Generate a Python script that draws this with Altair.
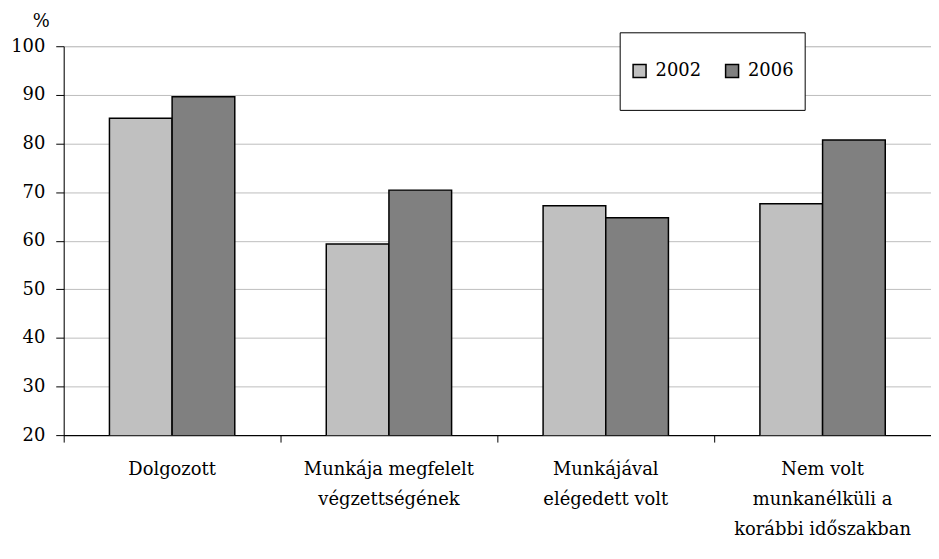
import altair as alt
import pandas as pd

categories = [
    "Dolgozott",
    "Munkája megfelelt\nvégzettségének",
    "Munkájával\nelégedett volt",
    "Nem volt\nmunkanélküli a\nkorábbi időszakban",
]
years = ["2002", "2006"]
values_2002 = [85.2, 59.3, 67.2, 67.6]
values_2006 = [89.6, 70.4, 64.7, 80.7]
y_ticks = [20, 30, 40, 50, 60, 70, 80, 90, 100]

rows = []
for c, a, b in zip(categories, values_2002, values_2006):
    rows.append({"cat": c, "year": "2002", "value": a})
    rows.append({"cat": c, "year": "2006", "value": b})
df = pd.DataFrame(rows)

FONT = "DejaVu Serif"
FS = 18

x_scale = alt.Scale(domain=categories, paddingInner=0, paddingOuter=0)
xo_scale = alt.Scale(domain=years, paddingOuter=0.73, paddingInner=0)
y_scale = alt.Scale(domain=[20, 100], nice=False, zero=False)

y_axis = alt.Axis(
    values=y_ticks,
    title="%",
    titleAngle=0,
    titleAlign="center",
    titleBaseline="alphabetic",
    titleX=-23,
    titleY=-20,
    titleFont=FONT,
    titleFontSize=FS,
    titleFontWeight="normal",
    titleColor="black",
    labelFont=FONT,
    labelFontSize=FS,
    labelColor="black",
    labelPadding=11,
    tickSize=8,
    tickColor="black",
    domainColor="black",
    gridColor="#bdbdbd",
    gridWidth=1,
)

bars = alt.Chart(df).mark_bar(stroke="black", strokeWidth=1.5, clip=True).encode(
    x=alt.X(
        "cat:N",
        scale=x_scale,
        sort=categories,
        axis=alt.Axis(
            orient="bottom",
            title=None,
            labelExpr="split(datum.label, '\\n')",
            labelFont=FONT,
            labelFontSize=FS,
            labelColor="black",
            labelLineHeight=30,
            labelAngle=0,
            labelPadding=26,
            labelLimit=300,
            labelOverlap=False,
            ticks=False,
            domainColor="black",
            grid=False,
        ),
    ),
    xOffset=alt.XOffset("year:N", scale=xo_scale),
    y=alt.Y("value:Q", scale=y_scale, axis=y_axis),
    color=alt.Color(
        "year:N",
        scale=alt.Scale(domain=years, range=["#c0c0c0", "#808080"]),
        legend=alt.Legend(
            title=None,
            orient="none",
            legendX=559,
            legendY=-14,
            direction="horizontal",
            fillColor="white",
            strokeColor="black",
            padding=11,
            clipHeight=56,
            labelFont=FONT,
            labelFontSize=FS,
            labelColor="black",
            labelOffset=7,
            columnPadding=22,
            symbolType="square",
            symbolSize=170,
            symbolStrokeColor="black",
            symbolStrokeWidth=1.5,
        ),
    ),
)

ticks_layer = alt.Chart(df).mark_bar(opacity=0, clip=True).encode(
    x=alt.X(
        "cat:N",
        scale=x_scale,
        sort=categories,
        axis=alt.Axis(
            orient="bottom",
            title=None,
            labels=False,
            ticks=True,
            bandPosition=0,
            tickSize=7,
            tickColor="black",
            domainColor="black",
            grid=False,
        ),
    ),
    xOffset=alt.XOffset("year:N", scale=xo_scale),
    y=alt.Y("value:Q", scale=y_scale, axis=y_axis),
)

chart = (
    alt.layer(bars, ticks_layer)
    .resolve_axis(x="independent")
    .properties(width=872, height=391, padding={"left": 2, "top": 3, "right": 0, "bottom": 0})
    .configure_view(stroke="#a0a0a0", strokeWidth=1.5)
    .configure(background="white")
)

chart.save("out.html", embed_options={"renderer": "svg", "actions": False})
